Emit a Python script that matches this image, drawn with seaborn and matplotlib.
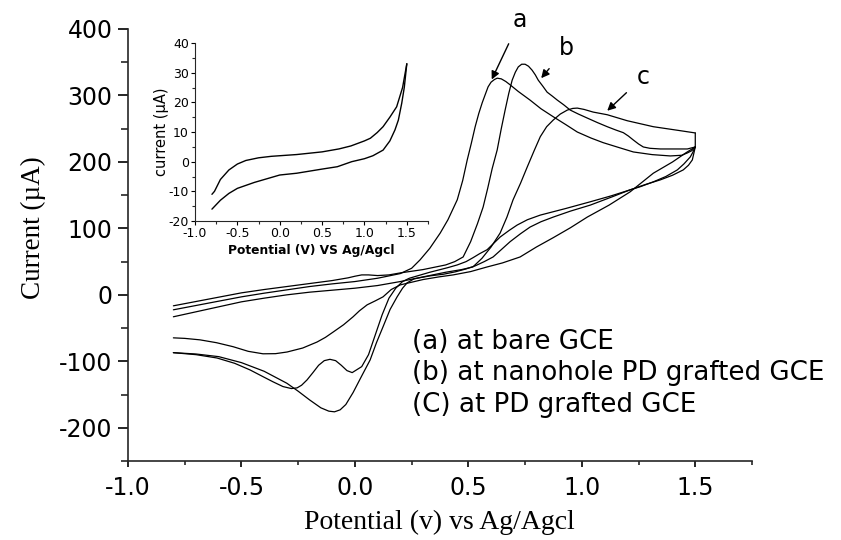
import numpy as np
import pandas as pd
import matplotlib
matplotlib.use("Agg")
import matplotlib.pyplot as plt
import seaborn as sns

# ---- cyclic voltammograms (potential in V, current in uA) ----
# forward (anodic) sweeps, starting at -0.8 V
fa_v = [-0.8, -0.7, -0.6, -0.5, -0.4, -0.3, -0.2, -0.1, 0.0, 0.1, 0.2, 0.25, 0.287, 0.33,
        0.376, 0.41, 0.451, 0.475, 0.495, 0.513, 0.53, 0.546, 0.561, 0.575, 0.587, 0.6, 0.615,
        0.627, 0.645, 0.665, 0.684, 0.72, 0.772, 0.82, 0.874, 0.93, 0.98, 1.04, 1.094, 1.16,
        1.227, 1.31, 1.39, 1.44, 1.465, 1.485, 1.5]
fa_i = [-22.5, -16, -9.5, -3, 2.5, 7.5, 12.5, 16.5, 20, 25, 32, 40, 52.6, 70,
        93, 113, 143, 172, 203, 228, 253, 273, 289, 302, 313, 320, 324,
        326, 325, 321, 316, 306, 293, 280, 268, 256, 245, 236, 229, 222,
        215, 211, 209, 210, 213.5, 217, 222.5]

fb_v = [-0.8, -0.7, -0.6, -0.5, -0.4, -0.3, -0.2, -0.1, -0.03, 0.0, 0.03, 0.06, 0.1, 0.15,
        0.2, 0.3, 0.4, 0.44, 0.477, 0.51, 0.54, 0.565, 0.585, 0.605, 0.627, 0.645, 0.662,
        0.678, 0.693, 0.707, 0.72, 0.735, 0.75, 0.765, 0.781, 0.795, 0.808, 0.828, 0.847,
        0.87, 0.892, 0.92, 0.949, 0.985, 1.024, 1.07, 1.112, 1.15, 1.183, 1.205, 1.227, 1.25,
        1.271, 1.3, 1.346, 1.4, 1.465, 1.5]
fb_i = [-16.5, -10, -3.5, 3, 8, 12.5, 17, 21.5, 25.6, 28, 30, 30, 29, 30,
        33, 38, 45, 50, 57, 80, 107, 132, 160, 190, 218, 250, 278,
        303, 323, 335, 343, 347, 347, 344, 338, 331, 323, 314, 305,
        299, 293, 286, 278, 272, 266, 259, 253, 248, 244, 239, 233, 227,
        222.5, 220.5, 219.5, 219.5, 219.5, 222.5]

fc_v = [-0.8, -0.7, -0.6, -0.5, -0.4, -0.3, -0.2, -0.1, 0.0, 0.1, 0.2, 0.3, 0.4, 0.47,
        0.52, 0.56, 0.6, 0.64, 0.67, 0.697, 0.73, 0.759, 0.79, 0.817, 0.845, 0.874, 0.905,
        0.936, 0.96, 0.98, 1.01, 1.05, 1.112, 1.2, 1.315, 1.434, 1.5]
fc_i = [-33, -25.5, -18, -10.5, -5, 0, 4, 7, 10, 14, 20, 27, 34, 38,
        42, 55, 72, 93, 117, 143, 168, 192, 217, 238, 253, 263, 272,
        278, 280.5, 281, 279, 275, 271, 262, 253, 247, 243.6]

# reverse (cathodic) sweeps, from 1.5 V back to -0.8 V
ra_v = [1.5, 1.49, 1.478, 1.45, 1.421, 1.37, 1.315, 1.26, 1.213, 1.13, 1.037, 0.93, 0.817,
        0.76, 0.715, 0.68, 0.64, 0.61, 0.583, 0.55, 0.521, 0.49, 0.451, 0.41, 0.376, 0.33,
        0.29, 0.26, 0.24, 0.21, 0.18, 0.15, 0.12, 0.09, 0.06, 0.03, -0.012, -0.035, -0.06,
        -0.085, -0.11, -0.135, -0.16, -0.185, -0.211, -0.235, -0.255, -0.28, -0.317, -0.36,
        -0.4, -0.462, -0.53, -0.608, -0.7, -0.8]
ra_i = [222.5, 215, 207.5, 197, 188, 178, 170, 163, 158, 149, 140, 130, 120,
        113, 105, 97, 87, 77, 68, 62, 56, 50, 45, 41, 38, 34,
        30, 27, 25, 20, 10, -5, -30, -60, -90, -108, -117, -114, -106,
        -99, -97, -99, -106, -117, -128, -136, -140, -141, -138, -131,
        -124, -113, -103, -95, -90, -87]

rb_v = [1.5, 1.487, 1.47, 1.447, 1.4, 1.346, 1.28, 1.213, 1.13, 1.037, 0.95, 0.874, 0.82,
        0.772, 0.73, 0.684, 0.645, 0.609, 0.57, 0.53, 0.49, 0.442, 0.39, 0.332, 0.29, 0.26,
        0.23, 0.21, 0.186, 0.155, 0.124, 0.095, 0.067, 0.03, -0.008, -0.04, -0.065, -0.09,
        -0.115, -0.15, -0.2, -0.25, -0.3, -0.4, -0.5, -0.6, -0.7, -0.8]
rb_i = [222.5, 203, 195, 188, 180, 173, 166, 158, 147, 135, 126, 117, 110,
        102, 92, 80, 68, 57, 50, 43.6, 39, 34.6, 31, 28.6, 26, 24,
        18, 10, -3, -22, -48, -72, -98, -122, -147, -165, -173, -176,
        -175, -170, -158, -145, -133, -115, -102, -93, -89, -87]

rc_v = [1.5, 1.5, 1.46, 1.4, 1.315, 1.213, 1.12, 1.024, 0.95, 0.874, 0.8, 0.728, 0.65,
        0.583, 0.51, 0.433, 0.37, 0.3, 0.25, 0.2, 0.16, 0.124, 0.09, 0.054, 0.02, -0.008,
        -0.05, -0.096, -0.13, -0.167, -0.23, -0.299, -0.35, -0.405, -0.47, -0.537, -0.61,
        -0.683, -0.75, -0.8]
rc_i = [243.6, 222.5, 214, 200, 183, 155, 135, 117, 101, 86, 72, 57, 48,
        42, 35, 30, 27, 23, 19, 15, 8, -3, -9, -15, -24, -33,
        -45, -56, -64, -71, -80, -86, -88.5, -88.7, -85, -78, -72,
        -67.7, -65.5, -64.7]

# blank electrode (inset)
blank_fwd_v = [-0.8, -0.77, -0.7, -0.6, -0.5, -0.4, -0.25, -0.1, 0.0, 0.2, 0.5, 0.7, 0.84, 1.0,
               1.07, 1.15, 1.22, 1.3, 1.38, 1.45, 1.5]
blank_fwd_i = [-11, -10, -6, -2.8, -0.8, 0.4, 1.3, 1.8, 2.0, 2.4, 3.3, 4.3, 5.3, 7,
               7.9, 9.8, 11.8, 15, 18.5, 25, 33]
blank_rev_v = [1.5, 1.47, 1.44, 1.4, 1.36, 1.3, 1.22, 1.1, 1.0, 0.85, 0.68, 0.5, 0.2, 0.0,
               -0.3, -0.5, -0.6, -0.7, -0.8]
blank_rev_i = [33, 25, 19.7, 14, 10.7, 7, 3.9, 2, 1, 0, -1.7, -2.5, -3.9, -4.5,
               -7, -9, -10.7, -13, -16]

legend_lines = ["(a) at bare GCE", "(b) at nanohole PD grafted GCE", "(C) at PD grafted GCE"]


def sweep_frame(pairs):
    frames = []
    for name, (v, i) in pairs.items():
        frames.append(pd.DataFrame({"E": v, "I": i, "sweep": name,
                                    "order": np.arange(len(v))}))
    return pd.concat(frames, ignore_index=True)


main_df = sweep_frame({
    "a_fwd": (fa_v, fa_i), "a_rev": (ra_v, ra_i),
    "b_fwd": (fb_v, fb_i), "b_rev": (rb_v, rb_i),
    "c_fwd": (fc_v, fc_i), "c_rev": (rc_v, rc_i),
})
inset_df = sweep_frame({"fwd": (blank_fwd_v, blank_fwd_i), "rev": (blank_rev_v, blank_rev_i)})

sns.set_theme(style="ticks")
plt.rcParams["font.family"] = ["DejaVu Sans"]
plt.rcParams["axes.unicode_minus"] = False
plt.rcParams["axes.linewidth"] = 1.2
plt.rcParams["text.color"] = "black"
plt.rcParams["axes.labelcolor"] = "black"

fig = plt.figure(figsize=(8.41, 5.40), dpi=100)
ax = fig.add_axes([128 / 841, 1 - 461 / 540, 624 / 841, 432 / 540])

sns.lineplot(data=main_df, x="E", y="I", units="sweep", estimator=None, sort=False,
             color="black", lw=0.9, ax=ax)

ax.set_xlim(-1.0, 1.75)
ax.set_ylim(-250, 400)
ax.set_xticks([-1.0, -0.5, 0.0, 0.5, 1.0, 1.5])
ax.set_xticks(np.arange(-0.75, 1.8, 0.5), minor=True)
ax.set_yticks(np.arange(-200, 401, 100))
ax.set_yticks(np.arange(-250, 401, 100), minor=True)
ax.xaxis.set_major_formatter(matplotlib.ticker.FormatStrFormatter("%.1f"))
ax.tick_params(axis="y", which="major", direction="out", length=7.2, width=1.2,
               labelsize=17, colors="black", pad=4)
ax.tick_params(axis="y", which="minor", direction="out", length=4.8, width=1.2)
ax.tick_params(axis="x", which="major", direction="out", length=4.5, width=1.2,
               labelsize=17, colors="black", pad=6.5)
ax.tick_params(axis="x", which="minor", direction="out", length=3, width=1.2)
ax.set_xlabel("")
ax.set_ylabel("")
sns.despine(ax=ax)

fig.text(0.523, 0.033, "Potential (v) vs Ag/Agcl", family="Liberation Serif",
         fontsize=20, ha="center", va="center", color="black")
fig.text(0.040, 0.578, "Current (\u00b5A)", family="Liberation Serif",
         fontsize=19.5, ha="center", va="center", rotation=90, color="black")

for k, line in enumerate(legend_lines):
    ax.text(0.252, -70.7 - 47.4 * k, line, fontsize=18.8, ha="left", va="center",
            color="black")

arrow = dict(arrowstyle="-|>", color="black", lw=1.0, mutation_scale=12,
             shrinkA=7, shrinkB=0)
ax.annotate("a", xy=(0.603, 324), xytext=(0.728, 414), fontsize=17, ha="center",
            va="center", color="black", arrowprops=arrow, annotation_clip=False)
ax.annotate("b", xy=(0.821, 326), xytext=(0.931, 371), fontsize=17, ha="center",
            va="center", color="black", arrowprops=arrow, annotation_clip=False)
ax.annotate("c", xy=(1.112, 277), xytext=(1.271, 328), fontsize=17, ha="center",
            va="center", color="black", arrowprops=arrow, annotation_clip=False)

# inset: blank electrode
ins = fig.add_axes([195 / 841, 1 - 221 / 540, 233 / 841, 178 / 540])
sns.lineplot(data=inset_df, x="E", y="I", units="sweep", estimator=None, sort=False,
             color="black", lw=1.0, ax=ins)
ins.set_xlim(-1.0, 1.75)
ins.set_ylim(-20, 40)
ins.set_xticks([-1.0, -0.5, 0.0, 0.5, 1.0, 1.5])
ins.set_xticks(np.arange(-0.75, 1.8, 0.5), minor=True)
ins.set_yticks(np.arange(-20, 41, 10))
ins.set_yticks(np.arange(-15, 40, 10), minor=True)
ins.xaxis.set_major_formatter(matplotlib.ticker.FormatStrFormatter("%.1f"))
ins.tick_params(which="major", direction="out", length=3.2, width=0.8, labelsize=9,
                colors="black", pad=1.2)
ins.tick_params(which="minor", direction="out", length=2, width=0.8)
for s in ins.spines.values():
    s.set_linewidth(0.8)
sns.despine(ax=ins)
ins.patch.set_alpha(0)
ins.set_xlabel("Potential (V) VS Ag/Agcl", fontsize=8.8, fontweight="bold", labelpad=3,
               color="black")
ins.set_ylabel("current (\u00b5A)", fontsize=10.5, labelpad=0, color="black")

fig.savefig("out.png", dpi=100)
